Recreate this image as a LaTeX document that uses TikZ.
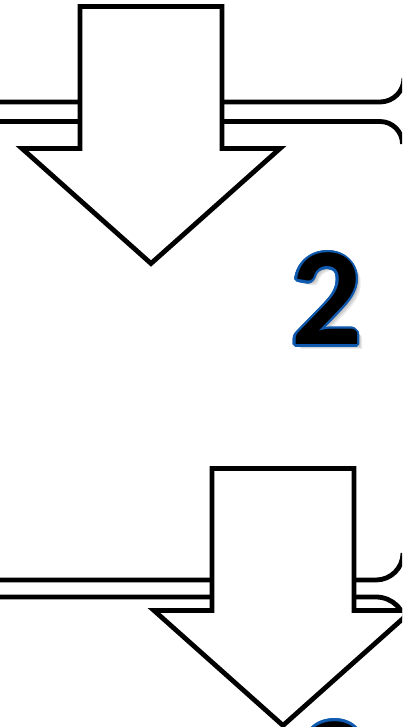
\documentclass[tikz,border=0pt]{standalone}
\usepackage{fontspec}
\newfontfamily\digitfont{Carlito}
\definecolor{outlineblue}{RGB}{15,90,175}
\tikzset{
  stroke/.style={line width=4.8pt, draw=black},
  arrowshape/.style={stroke, fill=white, line join=miter, miter limit=10},
  digit/.style={inner sep=0pt, anchor=base, font=\digitfont\bfseries\fontsize{140}{140}\selectfont},
}
\begin{document}
\begin{tikzpicture}[x=1pt,y=1pt]
\useasboundingbox (0,0) rectangle (402,727);
\clip (0,0) rectangle (402,727);
% top group of lines
\draw[stroke] (-5,625) -- (380,625) arc[start angle=-90,end angle=0,radius=24];
\draw[stroke] (-5,605.5) -- (380,605.5) arc[start angle=90,end angle=0,radius=22.5];
% top arrow
\draw[arrowshape] (80,720.5) -- (222,720.5) -- (222,578.5) -- (280,578.5) -- (151,463.5) -- (22,578.5) -- (80,578.5) -- cycle;
% digit 2
\begin{scope}[shift={(326.5,382)}]
  \foreach \s in {1,...,4} \node[digit, text=black, opacity=0.08] (d2s\s) at (1+\s,-1-\s) {2};
  \foreach \a in {0,22.5,...,337.5} \node[digit, text=outlineblue] (d2o\a) at (\a:2.3) {2};
  \node[digit, text=black] (d2) at (0,0) {2};
\end{scope}
% bottom group of lines
\draw[stroke] (-5,147) -- (376,147) arc[start angle=-90,end angle=0,radius=27];
\draw[stroke] (-5,130) -- (376,130) arc[start angle=90,end angle=0,radius=30];
% bottom arrow
\draw[arrowshape] (212,258.5) -- (354,258.5) -- (354,116.5) -- (412,116.5) -- (283,1.5) -- (154,116.5) -- (212,116.5) -- cycle;
% digit 3 (cut off at the bottom)
\begin{scope}[shift={(332,-86)}]
  \foreach \s in {1,...,4} \node[digit, text=black, opacity=0.08] (d3s\s) at (1+\s,-1-\s) {3};
  \foreach \a in {0,22.5,...,337.5} \node[digit, text=outlineblue] (d3o\a) at (\a:2.3) {3};
  \node[digit, text=black] (d3) at (0,0) {3};
\end{scope}
\end{tikzpicture}
\end{document}
